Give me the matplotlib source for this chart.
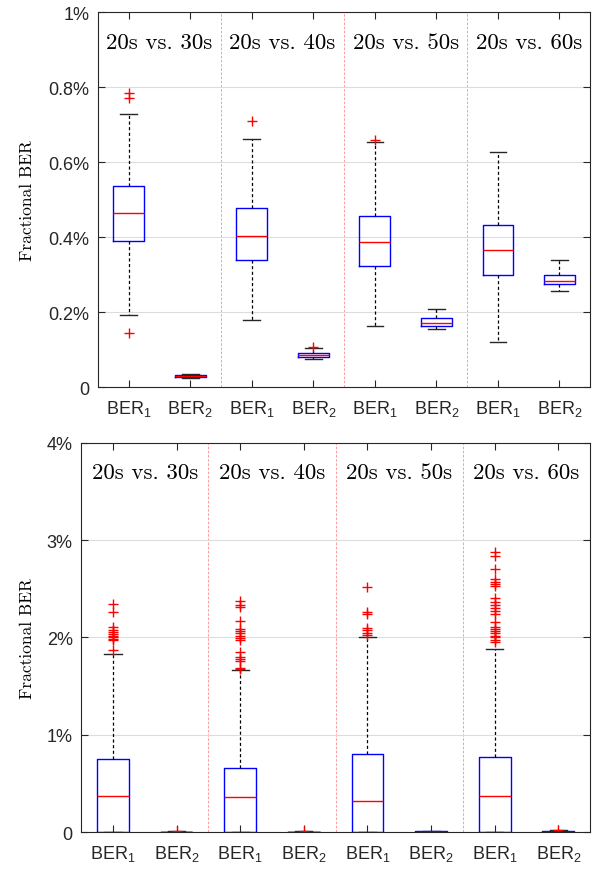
import matplotlib
matplotlib.use("Agg")
import matplotlib.pyplot as plt
from matplotlib.ticker import FixedLocator

plt.rcParams["font.family"] = "Liberation Sans"
plt.rcParams["mathtext.fontset"] = "custom"
plt.rcParams["mathtext.rm"] = "Liberation Sans"
plt.rcParams["mathtext.it"] = "Liberation Sans:italic"

# ---------------------------
# Data (percent)
# ---------------------------
labels = ["BER$_1$", "BER$_2$"] * 4
pairs = ["20s vs. 30s", "20s vs. 40s", "20s vs. 50s", "20s vs. 60s"]

# top panel
top_med = [0.463, 0.029, 0.403, 0.085, 0.387, 0.170, 0.366, 0.282]
top_q1 = [0.390, 0.027, 0.338, 0.081, 0.322, 0.164, 0.300, 0.274]
top_q3 = [0.535, 0.032, 0.478, 0.092, 0.455, 0.185, 0.432, 0.300]
top_lo = [0.192, 0.024, 0.180, 0.074, 0.163, 0.154, 0.121, 0.257]
top_hi = [0.728, 0.036, 0.661, 0.105, 0.654, 0.208, 0.628, 0.340]
top_fliers = [
    [0.783, 0.772, 0.144],
    [],
    [0.710],
    [0.106],
    [0.658],
    [],
    [],
    [],
]

# bottom panel
bot_med = [0.366, 0.001, 0.360, 0.001, 0.319, 0.002, 0.373, 0.004]
bot_q1 = [0.0, 0.0, 0.0, 0.0, 0.0, 0.0, 0.0, 0.0]
bot_q3 = [0.747, 0.003, 0.661, 0.004, 0.805, 0.006, 0.774, 0.010]
bot_lo = [0.0, 0.0, 0.0, 0.0, 0.0, 0.0, 0.0, 0.0]
bot_hi = [1.830, 0.006, 1.662, 0.008, 2.008, 0.014, 1.885, 0.022]
bot_fliers = [
    [2.344, 2.26, 2.11, 2.08, 2.06, 2.04, 2.02, 2.00, 1.98, 1.97, 1.875],
    [0.008],
    [2.38, 2.33, 2.31, 2.17, 2.09, 2.07, 2.05, 2.02, 1.99, 1.97,
     1.85, 1.80, 1.78, 1.76, 1.69, 1.675],
    [0.010],
    [2.52, 2.26, 2.24, 2.10, 2.08, 2.05, 2.03],
    [],
    [2.876, 2.84, 2.70, 2.60, 2.57, 2.55, 2.53, 2.41, 2.36, 2.33, 2.30,
     2.27, 2.24, 2.16, 2.11, 2.09, 2.07, 2.05, 2.02, 2.00, 1.97, 1.95],
    [0.025],
]

top_ticks = [0, 0.2, 0.4, 0.6, 0.8, 1.0]
top_ticklabels = ["0", "0.2%", "0.4%", "0.6%", "0.8%", "1%"]
bot_ticks = [0, 1, 2, 3, 4]
bot_ticklabels = ["0", "1%", "2%", "3%", "4%"]


def make_stats(med, q1, q3, lo, hi, fl):
    return [
        dict(med=med[i], q1=q1[i], q3=q3[i], whislo=lo[i], whishi=hi[i], fliers=fl[i])
        for i in range(len(med))
    ]


def draw_panel(ax, stats, ylim, ticks, ticklabels, text_y, label_x):
    ax.bxp(
        stats,
        positions=range(1, 9),
        widths=0.5,
        capwidths=0.27,
        showfliers=True,
        boxprops=dict(color="blue", linewidth=1.0),
        medianprops=dict(color="red", linewidth=1.0),
        whiskerprops=dict(color="black", linestyle=(0, (2.5, 2)), linewidth=0.9),
        capprops=dict(color="#262626", linewidth=1.0),
        flierprops=dict(marker="+", markeredgecolor="red", markersize=7, linestyle="none"),
    )
    for xv in [2.5, 4.5, 6.5]:
        ax.axvline(xv, color="#ff8c8c", linestyle=(0, (3, 2)), linewidth=0.6, zorder=0)
    for k, name in enumerate(pairs):
        ax.text(1.5 + 2 * k, text_y, name, family="cmr10", fontsize=16.5,
                ha="center", va="center")
    ax.set_xlim(0.5, 8.5)
    ax.set_ylim(*ylim)
    ax.xaxis.set_major_locator(FixedLocator(range(1, 9)))
    ax.set_xticklabels(labels)
    ax.set_yticks(ticks)
    ax.set_yticklabels(ticklabels)
    ax.tick_params(direction="in", top=True, right=True, labelsize=13,
                   colors="#262626", length=5, width=0.8, pad=6)
    ax.tick_params(axis="x", pad=8)
    ax.grid(axis="y", color="#dcdcdc", linewidth=0.8)
    ax.set_axisbelow(True)
    for s in ax.spines.values():
        s.set_color("#262626")
        s.set_linewidth(0.8)
    ax.set_ylabel("Fractional BER", family="cmr10", fontsize=12.5)
    ax.yaxis.set_label_coords(label_x, 0.5)


fig = plt.figure(figsize=(6.01, 8.70), dpi=100)
ax1 = fig.add_axes([0.163, 0.554, 0.819, 0.431])
ax2 = fig.add_axes([0.135, 0.0425, 0.847, 0.4472])

draw_panel(ax1, make_stats(top_med, top_q1, top_q3, top_lo, top_hi, top_fliers),
           (0, 1.0), top_ticks, top_ticklabels, 0.92, -0.128)
draw_panel(ax2, make_stats(bot_med, bot_q1, bot_q3, bot_lo, bot_hi, bot_fliers),
           (0, 4.0), bot_ticks, bot_ticklabels, 3.70, -0.090)

fig.savefig("out.png", dpi=100)
